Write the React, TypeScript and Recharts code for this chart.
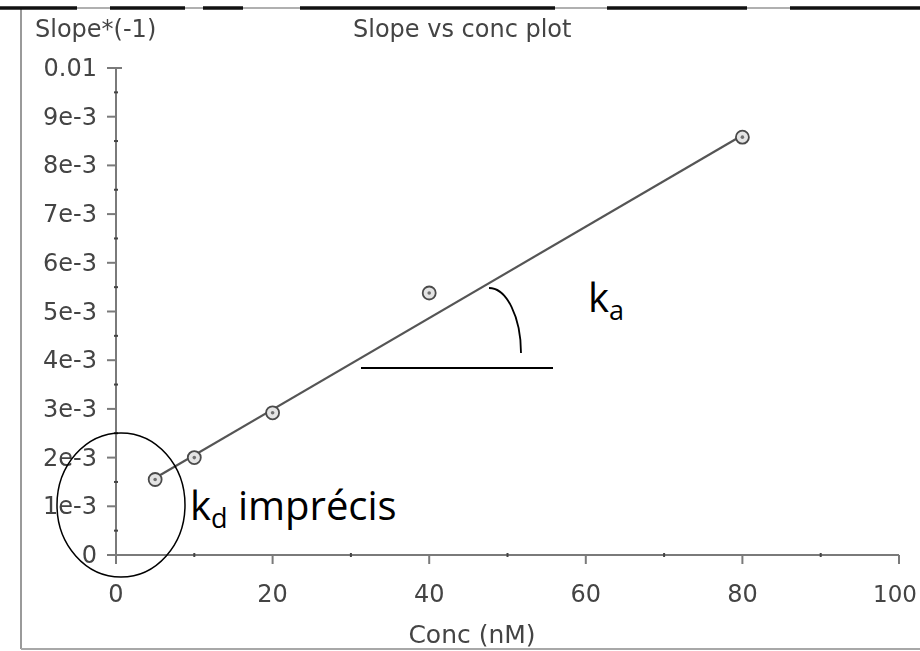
import React from 'react';
import { ScatterChart, Scatter, XAxis, YAxis } from 'recharts';

// measured points
const concs = [5, 10, 20, 40, 80];
const slopes = [1.55e-3, 2.0e-3, 2.92e-3, 5.38e-3, 8.58e-3];

// end points of the fitted line
const fitConcs = [5, 80];
const fitSlopes = [1.58e-3, 8.62e-3];

const xMajorTicks = [0, 20, 40, 60, 80, 100];
const xTickLabels = ['0', '20', '40', '60', '80', '100'];
const xMinorTicks = [10, 30, 50, 70, 90];

const yMajorTicks = [0, 0.001, 0.002, 0.003, 0.004, 0.005, 0.006, 0.007, 0.008, 0.009, 0.01];
const yTickLabels = ['0', '1e-3', '2e-3', '3e-3', '4e-3', '5e-3', '6e-3', '7e-3', '8e-3', '9e-3', '0.01'];
const yMinorTicks = [0.0005, 0.0015, 0.0025, 0.0035, 0.0045, 0.0055, 0.0065, 0.0075, 0.0085, 0.0095];

const points = concs.map((c, i) => ({ conc: c, slope: slopes[i] }));
const fit = fitConcs.map((c, i) => ({ conc: c, slope: fitSlopes[i] }));

const W = 920;
const H = 651;
const FONT = '"DejaVu Sans", sans-serif';
const INK = '#444';
const AXIS = '#7a7a7a';

const findIdx = (arr: number[], v: number) => arr.findIndex((t) => Math.abs(t - v) < 1e-9);

const YTick = (props: any) => {
  const { x, y, payload } = props;
  const i = findIdx(yMajorTicks, payload.value);
  if (i < 0) {
    return <line x1={x - 2} x2={x + 2} y1={y} y2={y} stroke={INK} strokeWidth={2} />;
  }
  return (
    <g>
      <line x1={x - 9} x2={x + 1} y1={y} y2={y} stroke={AXIS} strokeWidth={2} />
      <text x={x - 19} y={y} dy={8} textAnchor="end" fontFamily={FONT} fontSize={24} fill={INK}>
        {yTickLabels[i]}
      </text>
    </g>
  );
};

const XTick = (props: any) => {
  const { x, y, payload } = props;
  const i = findIdx(xMajorTicks, payload.value);
  if (i < 0) {
    return <line x1={x} x2={x} y1={y - 2} y2={y + 2} stroke={INK} strokeWidth={2} />;
  }
  // the last label would run past the right edge, so it hangs left of its tick
  const last = i === xMajorTicks.length - 1;
  return (
    <g>
      <line x1={x} x2={x} y1={y} y2={y + 9} stroke={AXIS} strokeWidth={2} />
      <text
        x={last ? x + 18 : x}
        y={y + 47}
        textAnchor={last ? 'end' : 'middle'}
        fontFamily={FONT}
        fontSize={last ? 23 : 24}
        fill={INK}
      >
        {xTickLabels[i]}
      </text>
    </g>
  );
};

const Marker = (props: any) => {
  const { cx, cy } = props;
  return (
    <g>
      <circle cx={cx} cy={cy} r={6.5} fill="#e4e4e4" stroke="#4a4a4a" strokeWidth={1.8} />
      <circle cx={cx} cy={cy} r={1.8} fill="#707070" />
    </g>
  );
};

// torn top edge of the scanned frame
const topEdge = [
  [0, 77],
  [110, 185],
  [203, 243],
  [300, 555],
  [607, 747],
  [790, 920],
];

export default function App() {
  return (
    <div style={{ position: 'absolute', left: 0, top: 0, width: W, height: H, background: '#fff' }}>
      <div style={{ position: 'absolute', left: 0, top: 0, filter: 'blur(0.6px)' }}>
        <ScatterChart width={W} height={H} margin={{ top: 68, right: 21, bottom: 56, left: 56 }}>
          <XAxis
            type="number"
            dataKey="conc"
            domain={[0, 100]}
            ticks={[...xMajorTicks, ...xMinorTicks]}
            interval={0}
            height={40}
            tickSize={0}
            tickMargin={0}
            tick={<XTick />}
            axisLine={{ stroke: AXIS, strokeWidth: 2 }}
            allowDataOverflow
          />
          <YAxis
            type="number"
            dataKey="slope"
            domain={[0, 0.01]}
            ticks={[...yMajorTicks, ...yMinorTicks]}
            interval={0}
            width={60}
            tickSize={0}
            tickMargin={0}
            tick={<YTick />}
            axisLine={{ stroke: AXIS, strokeWidth: 2 }}
            allowDataOverflow
          />
          <Scatter
            data={fit}
            line={{ stroke: '#555', strokeWidth: 2.2 }}
            shape={() => null}
            isAnimationActive={false}
          />
          <Scatter data={points} shape={<Marker />} isAnimationActive={false} />
        </ScatterChart>
        <svg width={W} height={H} style={{ position: 'absolute', left: 0, top: 0, pointerEvents: 'none' }}>
          <line x1={21} x2={21} y1={8} y2={649} stroke="#9a9a9a" strokeWidth={2} />
          <line x1={21} x2={W} y1={649} y2={649} stroke="#a8a8a8" strokeWidth={2} />
          <line x1={0} x2={W} y1={8} y2={8} stroke="#b0b0b0" strokeWidth={2} />
          {topEdge.map(([a, b]) => (
            <line key={a} x1={a} x2={b} y1={8} y2={8} stroke="#111" strokeWidth={3.5} />
          ))}
          <line x1={110} x2={122} y1={68} y2={68} stroke={AXIS} strokeWidth={2} />
          <text x={35} y={37} fontFamily={FONT} fontSize={24} fill={INK}>
            Slope*(-1)
          </text>
          <text x={353} y={37} fontFamily={FONT} fontSize={24} fill={INK}>
            Slope vs conc plot
          </text>
          <text x={472} y={643} textAnchor="middle" fontFamily={FONT} fontSize={25} fill={INK}>
            Conc (nM)
          </text>
        </svg>
      </div>
      {/* hand-drawn notes on top of the plot */}
      <svg width={W} height={H} style={{ position: 'absolute', left: 0, top: 0, pointerEvents: 'none' }}>
        <line x1={361} x2={553} y1={368} y2={368} stroke="#000" strokeWidth={1.8} />
        <path d="M489 288 A 32 65 0 0 1 521 353" fill="none" stroke="#000" strokeWidth={1.8} />
        <ellipse cx={121} cy={505} rx={64} ry={72} fill="none" stroke="#000" strokeWidth={1.5} />
        <text x={588} y={312} fontFamily='"Open Sans", sans-serif' fontSize={40} fill="#000">
          k
          <tspan fontSize={27} dy={8}>
            a
          </tspan>
        </text>
        <text x={190} y={520} fontFamily='"Open Sans", sans-serif' fontSize={40} fill="#000">
          k
          <tspan fontSize={27} dy={8}>
            d
          </tspan>
          <tspan dy={-8}> imprécis</tspan>
        </text>
      </svg>
    </div>
  );
}
